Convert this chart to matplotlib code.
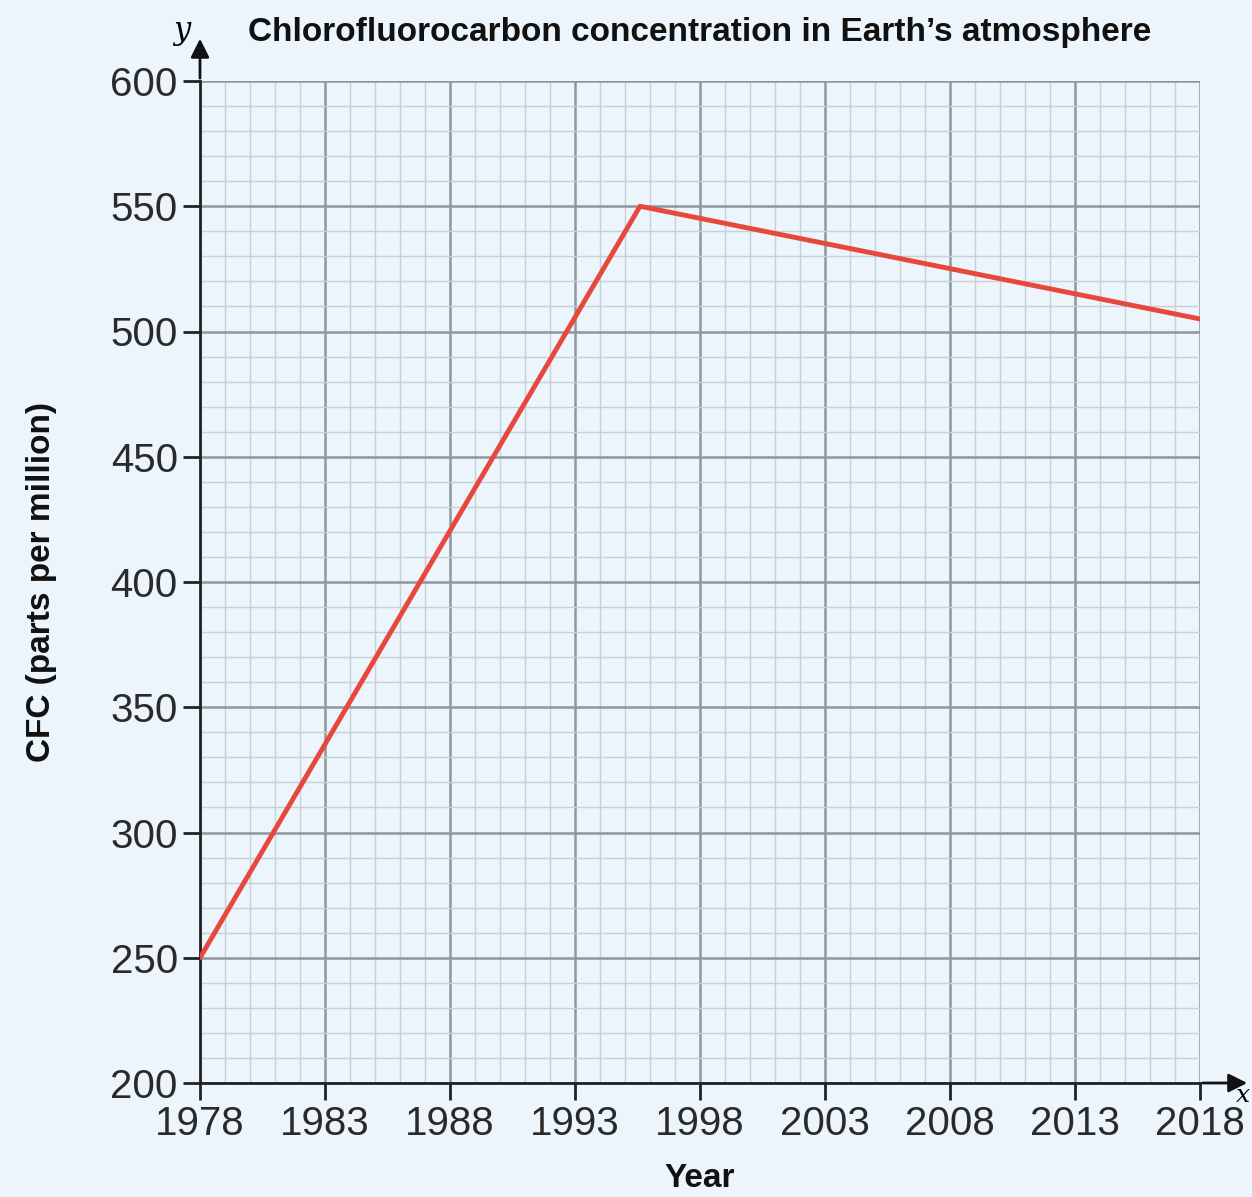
import numpy as np
import matplotlib.pyplot as plt
from matplotlib.ticker import MultipleLocator, FixedLocator

years = [1978, 1995.6, 2018]
cfc = [250, 550, 505]
year_ticks = [1978, 1983, 1988, 1993, 1998, 2003, 2008, 2013, 2018]
cfc_ticks = [200, 250, 300, 350, 400, 450, 500, 550, 600]

bg = '#ebf5fb'
fig = plt.figure(figsize=(12.52, 11.97), dpi=100, facecolor=bg)
ax = fig.add_axes([200 / 1252, 1 - 1083 / 1197, 1000 / 1252, 1002 / 1197])
ax.set_facecolor(bg)

ax.set_xlim(year_ticks[0], year_ticks[-1])
ax.set_ylim(cfc_ticks[0], cfc_ticks[-1])
ax.xaxis.set_major_locator(FixedLocator(year_ticks))
ax.xaxis.set_minor_locator(MultipleLocator(1))
ax.yaxis.set_major_locator(FixedLocator(cfc_ticks))
ax.yaxis.set_minor_locator(MultipleLocator(10))

ax.grid(which='minor', color='#c6d0d5', lw=1.0)
ax.grid(which='major', color='#8e979c', lw=1.8)
ax.set_axisbelow(True)

ax.plot(years, cfc, color='#e8473d', lw=3.5, solid_capstyle='round', zorder=3)

for s in ['top', 'right']:
    ax.spines[s].set_visible(False)
for s in ['left', 'bottom']:
    ax.spines[s].set_color('#222222')
    ax.spines[s].set_linewidth(2)

ax.tick_params(which='major', length=12, width=2, color='#222222',
               labelsize=29, labelcolor='#2a2a2a', pad=4)
ax.tick_params(which='minor', length=0)
for lab in ax.get_xticklabels() + ax.get_yticklabels():
    lab.set_family('Liberation Sans')

# axis arrows
ax.annotate('', xy=(0, 1.045), xytext=(0, 1.0), xycoords='axes fraction',
            arrowprops=dict(arrowstyle='-|>', color='#111111', lw=2,
                            mutation_scale=28), annotation_clip=False)
ax.annotate('', xy=(1.05, 0), xytext=(1.0, 0), xycoords='axes fraction',
            arrowprops=dict(arrowstyle='-|>', color='#111111', lw=2,
                            mutation_scale=28), annotation_clip=False)
ax.text(-0.018, 1.05, 'y', transform=ax.transAxes, fontsize=22,
        style='italic', family='DejaVu Serif', ha='center', va='center')
ax.text(1.043, -0.012, 'x', transform=ax.transAxes, fontsize=18,
        style='italic', family='DejaVu Serif', ha='center', va='center')

fig.text(700 / 1252, 1 - 32 / 1197, 'Chlorofluorocarbon concentration in Earth\u2019s atmosphere',
         ha='center', va='center', fontsize=24, fontweight='bold',
         family='Liberation Sans', color='#111111')
ax.set_xlabel('Year', fontsize=24, fontweight='bold', family='Liberation Sans',
              color='#111111', labelpad=14)
ax.set_ylabel('CFC (parts per million)', fontsize=24, fontweight='bold',
              family='Liberation Sans', color='#111111', labelpad=38)

fig.savefig('out.png', dpi=100, facecolor=bg)
